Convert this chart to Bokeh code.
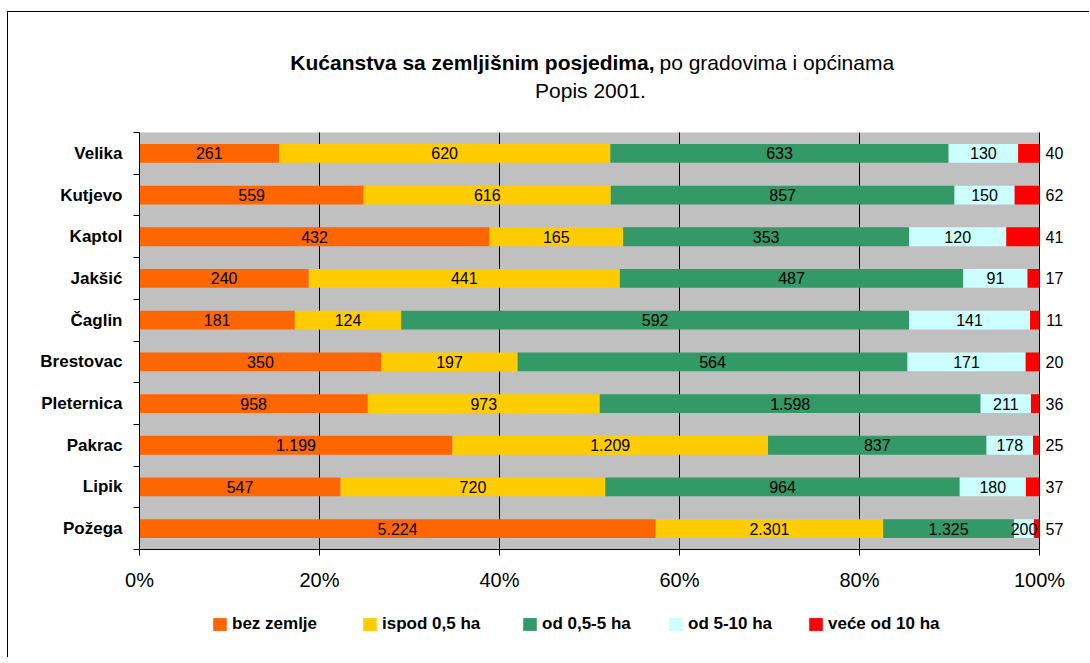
from bokeh.plotting import figure
from bokeh.layouts import column
from bokeh.models import (ColumnDataSource, Range1d, FixedTicker, NumeralTickFormatter,
                          LabelSet, Label, Legend, LegendItem)
from bokeh.core.properties import value
from bokeh.embed import file_html
from bokeh.resources import INLINE
import pandas as pd

# ---------------- data (top to bottom as in the chart) ----------------
categories = ["Velika", "Kutjevo", "Kaptol", "Jakšić", "Čaglin", "Brestovac",
              "Pleternica", "Pakrac", "Lipik", "Požega"]
bez_zemlje = [261, 559, 432, 240, 181, 350, 958, 1199, 547, 5224]
ispod_05_ha = [620, 616, 165, 441, 124, 197, 973, 1209, 720, 2301]
od_05_5_ha = [633, 857, 353, 487, 592, 564, 1598, 837, 964, 1325]
od_5_10_ha = [130, 150, 120, 91, 141, 171, 211, 178, 180, 200]
vece_od_10_ha = [40, 62, 41, 17, 11, 20, 36, 25, 37, 57]
series_names = ["bez zemlje", "ispod 0,5 ha", "od 0,5-5 ha", "od 5-10 ha", "veće od 10 ha"]
colors = ["#FF6600", "#FFCC00", "#339966", "#CCFFFF", "#FF0000"]
x_ticks = [0, 0.2, 0.4, 0.6, 0.8, 1.0]
title_bold = "Kućanstva sa zemljišnim posjedima,"
title_rest = "po gradovima i općinama"
subtitle = "Popis 2001."

FONT = "Liberation Sans"

# ---------------- layout constants (page pixels) ----------------
CANVAS_X0, CANVAS_Y0 = 8, 12          # content origin on the page
W = 1081
H1, H2 = 588, 57                       # main chart / legend strip
PLOT_L, PLOT_R = 139, 1039             # x = 0 .. 1
PLOT_T, PLOT_B = 132, 549              # y = n .. 0
FRAME_R, FRAME_T = 1075, 32

n = len(categories)
ppx = (PLOT_R - PLOT_L)
ppy = (PLOT_B - PLOT_T) / n


def px_x(page_x):
    return (page_x - PLOT_L) / ppx


def px_y(page_y):
    return (PLOT_B - page_y) / ppy


# ---------------- table ----------------
series = [bez_zemlje, ispod_05_ha, od_05_5_ha, od_5_10_ha, vece_od_10_ha]
df = pd.DataFrame({"cat": categories})
df["y"] = [n - i - 0.5 for i in range(n)]
tot = sum(pd.Series(s) for s in series)
stackers = []
cum = pd.Series([0.0] * n)
for k, s in enumerate(series):
    s = pd.Series(s)
    frac = s / tot
    df[f"s{k}"] = frac
    df[f"m{k}"] = cum + frac / 2
    df[f"t{k}"] = [f"{v:,}".replace(",", ".") for v in s]
    cum = cum + frac
    stackers.append(f"s{k}")
df["xr"] = 1.0
src = ColumnDataSource(df)

# ---------------- main figure ----------------
p = figure(width=W, height=H1, output_backend="svg", toolbar_location=None,
           x_range=Range1d(0, px_x(FRAME_R)),
           y_range=Range1d(0, px_y(FRAME_T)),
           min_border_left=PLOT_L - CANVAS_X0,
           min_border_right=W - (FRAME_R - CANVAS_X0),
           min_border_top=FRAME_T - CANVAS_Y0,
           min_border_bottom=H1 - (PLOT_B - CANVAS_Y0),
           background_fill_color="white", border_fill_color="white",
           outline_line_color=None)

# plot area background and grid lines
p.quad(left=0, right=1, bottom=0, top=n, fill_color="#C0C0C0", line_color=None, level="image")
p.segment(x0=x_ticks, y0=[0] * len(x_ticks), x1=x_ticks, y1=[n] * len(x_ticks),
          line_color="black", line_width=1, level="underlay")
p.xgrid.visible = False
p.ygrid.visible = False

renderers = p.hbar_stack(stackers, y="y", height=0.45, color=colors, line_color=None, source=src)

# x axis
p.xaxis.bounds = (0, 1)
p.xaxis.ticker = FixedTicker(ticks=x_ticks)
p.xaxis.formatter = NumeralTickFormatter(format="0%")
p.xaxis.major_tick_out = 6
p.xaxis.major_tick_in = 0
p.xaxis.minor_tick_out = 0
p.xaxis.minor_tick_in = 0
p.xaxis.axis_line_color = "black"
p.xaxis.major_tick_line_color = "black"
p.xaxis.major_label_text_font = FONT
p.xaxis.major_label_text_font_size = "20px"
p.xaxis.major_label_text_color = "black"
p.xaxis.major_label_standoff = 13

# y axis
p.yaxis.bounds = (0, n)
p.yaxis.ticker = FixedTicker(ticks=list(df["y"]), minor_ticks=list(range(n + 1)))
p.yaxis.major_label_overrides = {float(y): c for y, c in zip(df["y"], df["cat"])}
p.yaxis.major_tick_out = 0
p.yaxis.major_tick_in = 0
p.yaxis.minor_tick_out = 6
p.yaxis.minor_tick_in = 0
p.yaxis.minor_tick_line_color = "black"
p.yaxis.axis_line_color = "black"
p.yaxis.major_label_text_font = FONT
p.yaxis.major_label_text_font_style = "bold"
p.yaxis.major_label_text_font_size = "17px"
p.yaxis.major_label_text_color = "black"
p.yaxis.major_label_standoff = 11

# value labels
for k in range(len(series)):
    last = k == len(series) - 1
    ls = LabelSet(x="xr" if last else f"m{k}", y="y", text=f"t{k}", source=src,
                  x_offset=15 if last else 0,
                  text_align="center", text_baseline="middle",
                  text_font=value(FONT), text_font_size="16px", text_color="black")
    p.add_layout(ls)

# title
split = px_x(656)
p.add_layout(Label(x=split, y=px_y(62), x_offset=-2, text=title_bold,
                   text_align="right", text_baseline="middle", text_font=FONT,
                   text_font_style="bold", text_font_size="21px", text_color="black"))
p.add_layout(Label(x=split, y=px_y(62), x_offset=3, text=title_rest,
                   text_align="left", text_baseline="middle", text_font=FONT,
                   text_font_size="21px", text_color="black"))
p.add_layout(Label(x=px_x(590), y=px_y(90), text=subtitle,
                   text_align="center", text_baseline="middle", text_font=FONT,
                   text_font_size="21px", text_color="black"))

# ---------------- legend strip ----------------
q = figure(width=W, height=H2, output_backend="svg", toolbar_location=None,
           x_range=Range1d(0, 1), y_range=Range1d(0, 1),
           x_axis_location=None, y_axis_location=None,
           min_border=0, min_border_left=0, min_border_right=0,
           min_border_top=0, min_border_bottom=0,
           background_fill_color="white", border_fill_color="white",
           outline_line_color=None)
q.xgrid.visible = False
q.ygrid.visible = False

STRIP_BOTTOM = CANVAS_Y0 + H1 + H2
legend_x = [211, 361, 521, 667, 807]
for name, c, lx in zip(series_names, colors, legend_x):
    # swatch source for the legend entry (lies outside the strip's visible range)
    r = q.quad(left=[-3], right=[-2], bottom=[-3], top=[-2], fill_color=c, line_color=None)
    lg = Legend(items=[LegendItem(label=name, renderers=[r])],
                location=(lx - PLOT_L, STRIP_BOTTOM - 634),
                orientation="horizontal", padding=0, margin=0, spacing=0,
                glyph_width=17, glyph_height=16, label_height=16, label_standoff=4,
                label_text_font=FONT, label_text_font_style="bold",
                label_text_font_size="17px", label_text_color="black",
                border_line_color=None, background_fill_alpha=0)
    q.add_layout(lg)

layout = column(p, q, spacing=0,
                styles={"border-top": "1px solid black", "border-left": "1px solid black",
                        "margin-left": "7px", "margin-top": "11px"})

open("out.html", "w").write(file_html(layout, INLINE))
